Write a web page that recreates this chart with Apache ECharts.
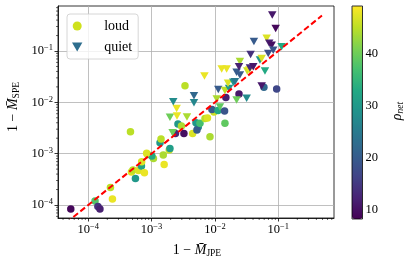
<!DOCTYPE html>
<html><head><meta charset="utf-8">
<script src="https://cdn.jsdelivr.net/npm/echarts@6/dist/echarts.min.js"></script>
<style>html,body{margin:0;padding:0;background:#fff}#c{width:407px;height:263px}</style>
</head><body><div id="c"></div>
<script>
// ---- data ----
const loudX = [5.3e-5,1.28e-4,1.42e-4,1.53e-4,2.24e-4,2.41e-4,4.64e-4,4.81e-4,5.56e-4,5.08e-4,
  6.21e-4,6.92e-4,7.71e-4,8.67e-4,1.07e-3,1.01e-3,1.36e-3,1.41e-3,1.53e-3,1.58e-3,
  1.90e-3,1.95e-3,2.61e-3,2.96e-3,2.38e-3,3.24e-3,4.45e-3,5.02e-3,5.46e-3,5.20e-3,
  5.81e-3,6.97e-3,7.63e-3,8.36e-3,9.66e-3,8.98e-3,1.12e-2,1.42e-2,1.44e-2,1.49e-2,
  2.40e-2,3.37e-3,5.94e-2,9.44e-2,6.97e-4,8.36e-4];
const loudY = [8.4e-5,1.20e-4,9.35e-5,8.36e-5,2.19e-4,1.31e-4,2.68e-3,4.40e-4,3.28e-4,4.81e-4,
  4.70e-4,5.75e-4,4.26e-4,9.63e-4,8.05e-4,8.99e-4,1.64e-3,1.93e-3,9.42e-4,6.15e-4,
  1.18e-3,1.26e-3,3.78e-3,3.46e-3,2.47e-3,2.47e-3,2.47e-3,4.01e-3,3.31e-3,2.89e-3,
  3.90e-3,4.84e-3,4.95e-3,2.14e-3,6.48e-3,7.25e-3,6.93e-3,6.78e-3,3.90e-3,1.24e-2,
  1.45e-2,2.11e-2,1.96e-2,1.82e-2,6.97e-4,1.02e-3];
const loudRho = [9,38,14,12,45,48,45,47,30,45,47,32,48,47,44,33,30,45,44,48,
  46,31,30,44,13,10,47,30,28,20,37,45,47,44,46,20,33,19,39,12,11,45,22,17,47,47];

const quietX = [1.95e-3,2.49e-3,2.52e-3,2.20e-3,3.62e-3,2.15e-3,4.67e-3,4.67e-3,6.84e-3,1.07e-2,
  1.13e-2,1.44e-2,1.67e-2,1.20e-2,1.28e-2,1.53e-2,1.61e-2,1.95e-2,2.20e-2,2.07e-2,
  2.20e-2,3.17e-2,2.48e-2,2.40e-2,2.48e-2,3.24e-2,3.48e-2,3.57e-2,4.03e-2,3.66e-2,
  4.13e-2,5.14e-2,5.47e-2,6.17e-2,6.95e-2,6.56e-2,7.21e-2,7.87e-2,8.34e-2,0.113,
  8.04e-2,9.10e-2,5.47e-2];
const quietY = [5.11e-3,7.59e-3,5.42e-3,1.03e-2,5.18e-3,2.56e-3,1.35e-2,9.84e-3,3.26e-2,1.16e-2,
  1.78e-2,1.70e-2,1.86e-2,8.11e-3,4.46e-2,4.46e-2,2.35e-2,2.45e-2,3.85e-2,2.52e-2,
  1.11e-2,1.20e-2,6.24e-2,4.94e-2,3.41e-2,4.08e-2,4.27e-2,4.67e-2,4.94e-2,8.55e-2,
  0.153,6.68e-2,7.14e-2,4.08e-2,8.94e-2,0.177,0.141,0.129,0.104,0.121,
  0.502,0.274,2.08e-2];
const quietRho = [40,48,48,28,44,40,22,27,48,44,20,45,30,39,48,48,47,30,20,25,
  40,28,44,12,20,46,48,13,11,14,20,30,47,33,18,47,12,10,19,33,11,9,11];

const refLineX = [3.5e-5, 0.49];
const xTicks = [1e-4, 1e-3, 1e-2, 1e-1];
const yTicks = [1e-4, 1e-3, 1e-2, 1e-1];
const cbTicks = [10, 20, 30, 40];
const xRange = [3.33e-5, 0.759];
const yRange = [5.58e-5, 0.753];
const rhoRange = [8.3, 49.2];

const viridis = ['#440154','#482475','#414487','#355f8d','#2a788e','#21918c','#22a884','#44bf70','#7ad151','#bddf26','#fde725'];
const FONT = 'Liberation Serif';

const chart = echarts.init(document.getElementById('c'), null, {renderer: 'canvas'});

const loudData = loudX.map((x, i) => [x, loudY[i], loudRho[i]]);
const quietData = quietX.map((x, i) => [x, quietY[i], quietRho[i]]);
const tri = 'path://M0,0L10,0L5,8.66Z';

const expFmt = v => '{b|10}{s|' + String(Math.round(Math.log10(v))).replace('-', '\u2212') + '}';
const tickRich = {
  b: {fontFamily: FONT, fontSize: 12.5, color: '#000', lineHeight: 15},
  s: {fontFamily: FONT, fontSize: 8.5, color: '#000', lineHeight: 9, verticalAlign: 'top'}
};

chart.setOption({
  animation: false,
  backgroundColor: '#fff',
  grid: [
    {left: 58, top: 6, width: 276, height: 212, show: true, borderColor: '#000', borderWidth: 0.8, backgroundColor: 'transparent'},
    {left: 352, top: 6, width: 10.5, height: 213, show: false}
  ],
  xAxis: [
    {type: 'log', gridIndex: 0, min: xRange[0], max: xRange[1],
     axisLine: {show: true, lineStyle: {color: '#000', width: 0.8}},
     axisTick: {show: true, inside: false, length: 3.5, lineStyle: {color: '#000', width: 0.8}, customValues: xTicks},
     axisLabel: {show: true, margin: 4, formatter: expFmt, rich: tickRich, customValues: xTicks},
     splitLine: {show: true, lineStyle: {color: '#b0b0b0', width: 0.8}},
     minorTick: {show: false}},
    {type: 'value', gridIndex: 1, show: false, min: 0, max: 1}
  ],
  yAxis: [
    {type: 'log', gridIndex: 0, min: yRange[0], max: yRange[1],
     axisLine: {show: true, lineStyle: {color: '#000', width: 0.8}},
     axisTick: {show: true, inside: false, length: 3.5, lineStyle: {color: '#000', width: 0.8}, customValues: yTicks},
     axisLabel: {show: true, margin: 5, formatter: expFmt, rich: tickRich, customValues: yTicks},
     splitLine: {show: true, lineStyle: {color: '#b0b0b0', width: 0.8}}},
    {type: 'value', gridIndex: 1, position: 'right', min: rhoRange[0], max: rhoRange[1],
     axisLine: {show: false},
     axisTick: {show: true, inside: false, length: 3.5, lineStyle: {color: '#000', width: 0.8}, customValues: cbTicks},
     axisLabel: {show: true, margin: 3, color: '#000', fontFamily: FONT, fontSize: 12.5, customValues: cbTicks},
     splitLine: {show: false}}
  ],
  visualMap: {
    type: 'continuous', seriesIndex: [0, 1], dimension: 2,
    min: rhoRange[0], max: rhoRange[1], calculable: false, realtime: false,
    left: 352, top: 6, itemWidth: 10.5, itemHeight: 213, padding: 0,
    text: null, showLabel: false,
    inRange: {color: viridis}
  },
  legend: {
    left: 67, top: 14, orient: 'vertical',
    padding: [5, 6, 5, 5], itemGap: 7, itemWidth: 30, itemHeight: 9,
    backgroundColor: 'rgba(255,255,255,0.8)', borderColor: '#cccccc', borderWidth: 0.8, borderRadius: 3,
    textStyle: {fontFamily: FONT, fontSize: 14, color: '#000', lineHeight: 14, padding: [0, 0, 0, 7]},
    data: [{name: 'loud', icon: 'circle'}, {name: 'quiet', icon: tri}],
    selectedMode: false
  },
  series: [
    {name: 'loud', type: 'scatter', xAxisIndex: 0, yAxisIndex: 0, symbol: 'circle', symbolSize: 7.5,
     itemStyle: {color: '#cfe11c', opacity: 1}, data: loudData, z: 3},
    {name: 'quiet', type: 'scatter', xAxisIndex: 0, yAxisIndex: 0, symbol: tri, symbolSize: [8.5, 7.5],
     itemStyle: {color: '#2e6e8e', opacity: 1}, data: quietData, z: 3},
    {name: 'ref', type: 'line', xAxisIndex: 0, yAxisIndex: 0, symbol: 'none', clip: true,
     lineStyle: {color: '#ff0000', width: 2, type: [6, 3]},
     data: refLineX.map(v => [v, v]), z: 5}
  ]
});

// decorations computed from the axes
const g = [];
for (let k = -5; k <= 0; k++) {
  for (let m = 2; m <= 9; m++) {
    const v = m * Math.pow(10, k);
    if (v > xRange[0] && v < xRange[1]) {
      const px = chart.convertToPixel({xAxisIndex: 0}, v);
      g.push({type: 'line', shape: {x1: px, y1: 218, x2: px, y2: 220}, style: {stroke: '#000', lineWidth: 0.6}, silent: true});
    }
    if (v > yRange[0] && v < yRange[1]) {
      const py = chart.convertToPixel({yAxisIndex: 0}, v);
      g.push({type: 'line', shape: {x1: 56, y1: py, x2: 58, y2: py}, style: {stroke: '#000', lineWidth: 0.6}, silent: true});
    }
  }
}
g.push({type: 'rect', shape: {x: 352, y: 6, width: 10.5, height: 213}, style: {fill: 'none', stroke: '#000', lineWidth: 0.8}, z: 10, silent: true});
const titleRich = {
  r: {fontFamily: FONT, fontSize: 14, color: '#000', lineHeight: 16},
  i: {fontFamily: FONT, fontSize: 14, fontStyle: 'italic', color: '#000', lineHeight: 16},
  s: {fontFamily: FONT, fontSize: 9.5, color: '#000', lineHeight: 9, verticalAlign: 'bottom'},
  si: {fontFamily: FONT, fontSize: 9.5, fontStyle: 'italic', color: '#000', lineHeight: 9, verticalAlign: 'bottom'}
};
g.push({type: 'text', x: 197, y: 250, silent: true,
  style: {text: '{r|1 \u2212 }{i|M\u0304}{s|JPE}', rich: titleRich, align: 'center', verticalAlign: 'middle'}});
g.push({type: 'text', x: 13, y: 107, rotation: Math.PI / 2, silent: true,
  style: {text: '{r|1 \u2212 }{i|M\u0304}{s|SPE}', rich: titleRich, align: 'center', verticalAlign: 'middle'}});
g.push({type: 'text', x: 397, y: 111, rotation: Math.PI / 2, silent: true,
  style: {text: '{i|\u03c1}{si|net}', rich: titleRich, align: 'center', verticalAlign: 'middle'}});
chart.setOption({graphic: g});
</script>
</body></html>
